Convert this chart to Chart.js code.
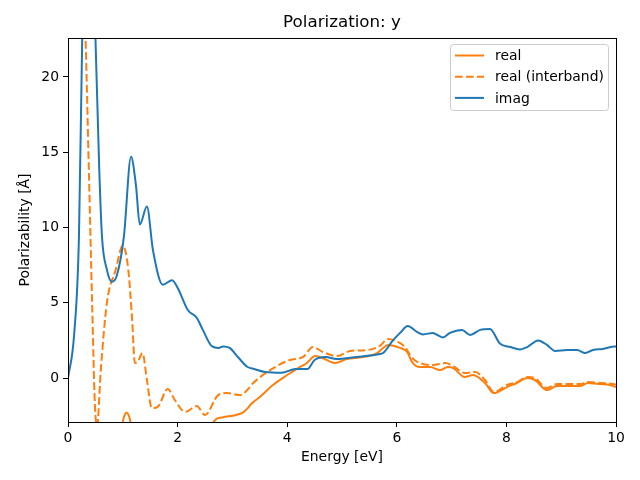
<!DOCTYPE html>
<html>
<head>
<meta charset="utf-8">
<script src="https://cdn.jsdelivr.net/npm/chart.js@4"></script>
<style>
  html, body { margin: 0; padding: 0; background: #fff; }
  canvas { display: block; }
</style>
</head>
<body>
<canvas id="polChart" width="640" height="480"></canvas>
<script>
// energies [eV] and polarizability values
const energyReal = [0.05, 0.3, 0.5, 0.8, 0.95, 1.02, 1.07, 1.12, 1.2, 1.5, 2.0, 2.4, 2.6, 2.68, 2.83, 3.01, 3.19,
    3.28, 3.36, 3.5, 3.74, 4.0, 4.2, 4.36, 4.51, 4.64, 4.87, 5.09, 5.38, 5.64, 5.75, 5.84, 6.06, 6.19,
    6.28, 6.42, 6.61, 6.79, 6.93, 7.03, 7.24, 7.39, 7.61, 7.77, 8.01, 8.19, 8.38, 8.52, 8.74, 8.92,
    9.34, 9.49, 9.71, 9.89, 10];
const realValues = [-60, -20, -8, -6, -4, -2.6, -2.3, -2.6, -4, -6, -5, -4, -3.3, -2.8, -2.6, -2.5, -2.3,
    -2.0, -1.66, -1.26, -0.46, 0.2, 0.66, 1.0, 1.46, 1.33, 1.0, 1.26, 1.4, 1.66, 2.0, 2.2, 2.0, 1.73,
    1.06, 0.73, 0.73, 0.53, 0.73, 0.66, 0.07, 0.2, -0.33, -1.0, -0.6, -0.33, 0.0, -0.13, -0.8, -0.53,
    -0.53, -0.33, -0.4, -0.46, -0.6];

const energyInter = [0.0, 0.2, 0.32, 0.38, 0.44, 0.49, 0.53, 0.6, 0.71, 0.87, 1.0, 1.1, 1.17, 1.22, 1.27, 1.36,
    1.44, 1.53, 1.64, 1.82, 1.95, 2.14, 2.35, 2.5, 2.74, 2.9, 3.14, 3.27, 3.38, 3.69, 4.05, 4.29,
    4.47, 4.65, 4.91, 5.15, 5.46, 5.69, 5.84, 6.02, 6.15, 6.28, 6.42, 6.66, 6.88, 7.03, 7.24, 7.43,
    7.61, 7.77, 8.01, 8.19, 8.39, 8.52, 8.74, 8.92, 9.34, 9.49, 9.71, 9.95, 10];
const interValues = [45, 35, 22.6, 13.9, 5.0, -1.7, -3.2, 0.6, 5.0, 7.2, 8.8, 7.2, 3.9, 1.0, 1.06, 1.66,
    -0.13, -2.0, -1.9, -0.73, -1.46, -2.26, -1.86, -2.46, -1.13, -1.0, -1.13, -0.8, -0.33, 0.53, 1.2, 1.4,
    2.06, 1.73, 1.46, 1.8, 1.86, 2.13, 2.6, 2.4, 2.06, 1.33, 1.0, 0.86, 1.0, 0.8, 0.33, 0.4,
    -0.13, -0.93, -0.46, -0.27, 0.07, 0.0, -0.66, -0.4, -0.4, -0.27, -0.33, -0.4, -0.45];

const energyImag = [0, 0.11, 0.2, 0.26, 0.38, 0.5, 0.57, 0.62, 0.71, 0.8, 0.89, 1.02, 1.15, 1.24, 1.31, 1.44,
    1.55, 1.73, 1.9, 2.0, 2.19, 2.35, 2.46, 2.63, 2.75, 2.83, 2.95, 3.1, 3.27, 3.4, 3.6, 3.9, 4.15,
    4.37, 4.5, 4.7, 4.9, 5.27, 5.51, 5.7, 5.75, 5.93, 6.06, 6.2, 6.37, 6.48, 6.66, 6.77, 6.84, 6.97,
    7.19, 7.34, 7.52, 7.7, 7.88, 8.07, 8.25, 8.38, 8.58, 8.74, 8.89, 9.11, 9.29, 9.44, 9.58, 9.76,
    9.98, 10];
const imagValues = [0, 2.8, 9.4, 22.7, 40, 22.7, 13.9, 9.4, 7.2, 6.4, 6.8, 9.4, 14.7, 12.8, 10.2, 11.4,
    8.5, 6.2, 6.5, 6.0, 4.5, 4.0, 3.2, 2.1, 2.0, 2.1, 2.0, 1.4, 0.75, 0.6, 0.4, 0.35, 0.6,
    0.6, 1.2, 1.4, 1.26, 1.4, 1.5, 1.6, 1.66, 2.5, 3.0, 3.46, 3.06, 2.9, 3.0, 2.8, 2.7, 3.0,
    3.2, 2.86, 3.2, 3.26, 2.3, 2.06, 1.9, 2.06, 2.5, 2.2, 1.8, 1.86, 1.86, 1.66, 1.86, 1.93,
    2.1, 2.1];

const xTicks = [0, 2, 4, 6, 8, 10];
const yTicks = [0, 5, 10, 15, 20];

const orange = '#ff7f0e';
const blue = '#1f77b4';
const font = 'DejaVu Sans';

function pts(xs, ys) {
    return xs.map((x, i) => ({ x: x, y: ys[i] }));
}

// axes box + title centred over the plot area (matplotlib style)
const frame = {
    id: 'frame',
    afterDatasetsDraw(chart) {
        const a = chart.chartArea;
        const ctx = chart.ctx;
        ctx.save();
        ctx.strokeStyle = '#000';
        ctx.lineWidth = 1;
        ctx.strokeRect(Math.round(a.left) + 0.5, Math.round(a.top) + 0.5,
            Math.round(a.right - a.left), Math.round(a.bottom - a.top));
        ctx.fillStyle = '#000';
        ctx.font = '16.7px "' + font + '"';
        ctx.textAlign = 'center';
        ctx.textBaseline = 'middle';
        ctx.fillText('Polarization: y', (a.left + a.right) / 2, 23);
        ctx.restore();
    }
};

// legend box in the upper right
const boxLegend = {
    id: 'boxLegend',
    afterDraw(chart) {
        const ctx = chart.ctx;
        const x0 = 450.5, y0 = 44.5, w = 158, h = 66, r = 3;
        ctx.save();
        ctx.beginPath();
        ctx.roundRect(x0, y0, w, h, r);
        ctx.fillStyle = 'rgba(255,255,255,0.8)';
        ctx.fill();
        ctx.strokeStyle = '#cccccc';
        ctx.lineWidth = 1;
        ctx.stroke();
        const items = [
            { text: 'real', color: orange, dash: [] },
            { text: 'real (interband)', color: orange, dash: [7.7, 3.3] },
            { text: 'imag', color: blue, dash: [] }
        ];
        ctx.font = '13.9px "' + font + '"';
        ctx.textBaseline = 'middle';
        items.forEach((it, i) => {
            const y = 55.5 + i * 21.2;
            ctx.beginPath();
            ctx.setLineDash(it.dash);
            ctx.strokeStyle = it.color;
            ctx.lineWidth = 2;
            ctx.moveTo(455, y);
            ctx.lineTo(484, y);
            ctx.stroke();
            ctx.setLineDash([]);
            ctx.fillStyle = '#000';
            ctx.fillText(it.text, 495, y + 1);
        });
        ctx.restore();
    }
};

const ctxEl = document.getElementById('polChart');

new Chart(ctxEl, {
    type: 'line',
    data: {
        datasets: [{
            label: 'real',
            data: pts(energyReal, realValues),
            borderColor: orange,
            borderWidth: 2,
            order: 2,
        }, {
            label: 'real (interband)',
            data: pts(energyInter, interValues),
            borderColor: orange,
            borderWidth: 2,
            borderDash: [7.7, 3.3],
            order: 1,
        }, {
            label: 'imag',
            data: pts(energyImag, imagValues),
            borderColor: blue,
            borderWidth: 2,
            order: 0,
        }]
    },
    options: {
        responsive: false,
        animation: false,
        devicePixelRatio: 1,
        layout: {
            padding: { left: 0, right: 24, top: 38, bottom: 0 }
        },
        elements: {
            point: { radius: 0 },
            line: { cubicInterpolationMode: 'monotone', fill: false }
        },
        plugins: {
            legend: { display: false },
            tooltip: { enabled: false },
            title: { display: false }
        },
        scales: {
            x: {
                type: 'linear',
                min: 0,
                max: 10,
                afterBuildTicks: (s) => { s.ticks = xTicks.map(v => ({ value: v })); },
                afterFit: (s) => { s.height = 58; },
                ticks: {
                    color: '#000',
                    font: { family: font, size: 13.9 },
                    padding: 3,
                    maxRotation: 0,
                    callback: (v) => String(v)
                },
                grid: {
                    drawOnChartArea: false,
                    drawTicks: true,
                    tickLength: 5,
                    color: '#000'
                },
                border: { display: true, color: '#000' },
                title: {
                    display: true,
                    text: 'Energy [eV]',
                    color: '#000',
                    font: { family: font, size: 13.9 },
                    padding: { top: 0, bottom: 14.7 }
                }
            },
            y: {
                type: 'linear',
                min: -2.92,
                max: 22.59,
                afterBuildTicks: (s) => { s.ticks = yTicks.map(v => ({ value: v })); },
                afterFit: (s) => { s.width = 68; },
                ticks: {
                    color: '#000',
                    font: { family: font, size: 13.9 },
                    padding: 4,
                    callback: (v) => String(v)
                },
                grid: {
                    drawOnChartArea: false,
                    drawTicks: true,
                    tickLength: 5,
                    color: '#000'
                },
                border: { display: true, color: '#000' },
                title: {
                    display: true,
                    text: 'Polarizability [Å]',
                    color: '#000',
                    font: { family: font, size: 13.9 },
                    padding: { top: 16.7, bottom: 0 }
                }
            }
        }
    },
    plugins: [frame, boxLegend]
});
</script>
</body>
</html>
